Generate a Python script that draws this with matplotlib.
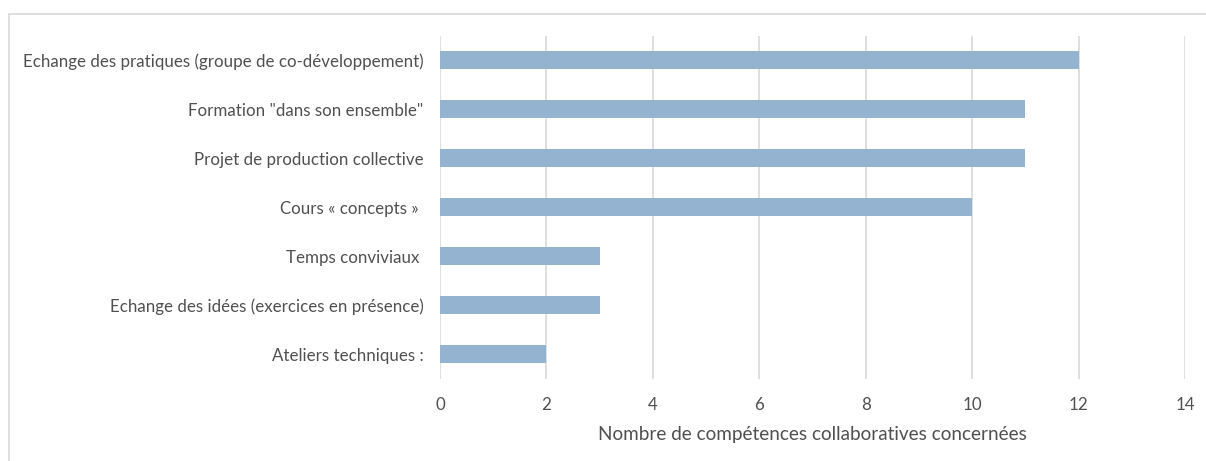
import matplotlib
matplotlib.use("Agg")
import matplotlib.pyplot as plt
from matplotlib.patches import Rectangle

categories = [
    "Echange des pratiques (groupe de co-développement)",
    'Formation "dans son ensemble"',
    "Projet de production collective",
    "Cours « concepts » ",
    "Temps conviviaux ",
    "Echange des idées (exercices en présence)",
    "Ateliers techniques :",
]
values = [12, 11, 11, 10, 3, 3, 2]
xticks = [0, 2, 4, 6, 8, 10, 12, 14]

plt.rcParams['font.family'] = ['Lato', 'DejaVu Sans']
text_col = '#505050'

fig = plt.figure(figsize=(12.06, 4.61), dpi=100)
W, H = 1206, 461
ax = fig.add_axes([440 / W, 1 - 378.5 / H, (1185 - 440) / W, 343 / H])

pos = list(range(len(categories)))[::-1]
ax.barh(pos, values, height=0.35, color='#93B3D0', zorder=3)
ax.set_yticks(pos)
ax.set_yticklabels(categories, fontsize=12.2, color=text_col)
ax.set_xlim(0, 14)
ax.set_ylim(-0.5, 6.5)
ax.set_xticks(xticks)
ax.set_xticklabels([str(t) for t in xticks], fontsize=12.2, color=text_col)
ax.grid(axis='x', color='#D9D9D9', linewidth=1.2, zorder=0)
for s in ax.spines.values():
    s.set_visible(False)
ax.tick_params(axis='both', length=0)
ax.tick_params(axis='x', pad=13)
ax.tick_params(axis='y', pad=12)
ax.set_xlabel("Nombre de compétences collaboratives concernées", fontsize=13.6,
              color=text_col, labelpad=10)

fig.patches.append(Rectangle((9 / W, -0.1), 1.2, 1 - 14 / H + 0.1, transform=fig.transFigure,
                             fill=False, edgecolor='#D9D9D9', linewidth=1.2))

fig.savefig("out.png", dpi=100)
